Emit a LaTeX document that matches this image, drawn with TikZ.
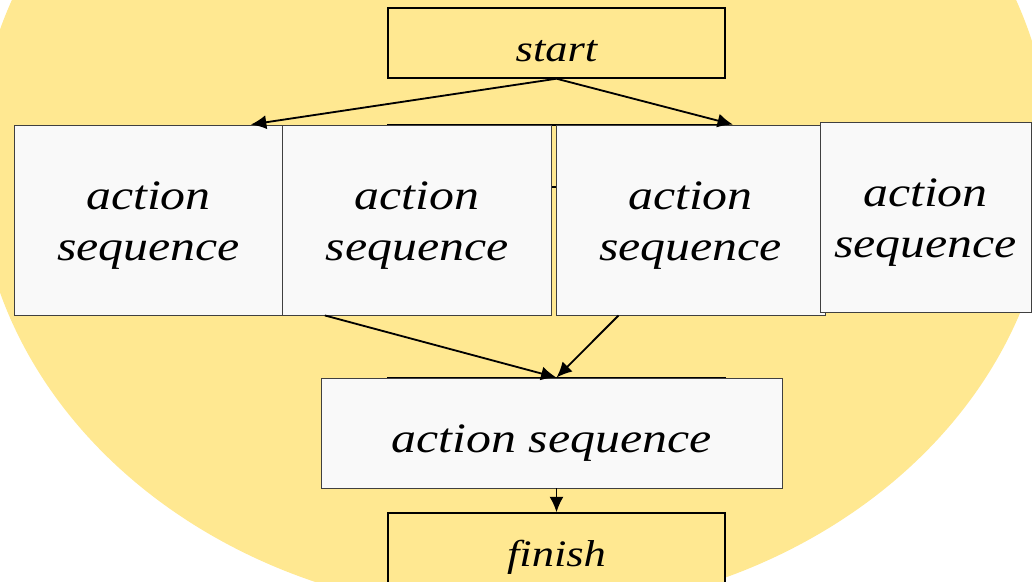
\documentclass[tikz,border=0pt]{standalone}
\usepackage{fontspec}
\setmainfont{Liberation Serif}[FakeStretch=1.19]
\usepackage{tikz}
\usetikzlibrary{arrows.meta}
\definecolor{bgyellow}{HTML}{FFE891}
\definecolor{boxgray}{HTML}{F9F9F9}
\tikzset{>={Latex[length=11pt,width=10pt]}}
\tikzset{endbox/.style={draw=black, line width=1pt, fill=bgyellow,
    minimum width=8.425cm, minimum height=1.75cm, inner sep=0pt,
    text height=26.9pt, text depth=0pt,
    font=\fontsize{26.6}{32}\selectfont\itshape}}
\tikzset{seqbox/.style={draw=black!75, line width=0.6pt, fill=boxgray,
    minimum width=6.725cm, minimum height=4.75cm, inner sep=0pt, align=center,
    text height=58pt, text depth=0pt,
    font=\fontsize{29.8}{36.5}\selectfont\itshape}}
\tikzset{arr/.style={->, line width=1.3pt}}

\begin{document}
\begin{tikzpicture}[x=0.025cm, y=-0.025cm]

                    \useasboundingbox (0,0) rectangle (1032,582);
                    \clip (0,0) rectangle (1032,582);
                    \fill[bgyellow] (514,161) ellipse [x radius=537, y radius=453];

                    % boxes left behind the row and the merge box
                    \draw[fill=bgyellow, line width=0.8pt] (388,125) rectangle (725,187);
                    \draw[fill=bgyellow, line width=0.8pt] (388,378) rectangle (725,480);

                    \node[endbox] (start) at (556.5,43) {start};
                    \node[seqbox] (seq1) at (148.5,220) {action\\sequence};
                    \node[seqbox] (seq2) at (417,220) {action\\sequence};
                    \node[seqbox] (seq3) at (690.5,220) {action\\sequence};
                    \node[seqbox, minimum width=5.275cm] (seq4) at (925.5,217) {action\\sequence};
                    \node[seqbox, minimum width=11.525cm, minimum height=2.75cm,
                          text height=28.3pt] (merge) at (551.5,433) {action sequence};
                    \node[endbox] (finish) at (556.5,548) {finish};

                    \draw[arr] (start.south) -- (seq1.43);
                    \draw[arr] (start.south) -- (seq3.66);
                    \draw[arr] (seq2.226) -- (merge.north -| finish);
                    \draw[arr] (seq3.233) -- (merge.north -| finish);
                    \draw[arr] (merge.south -| finish) -- (finish.north);

                \end{tikzpicture}
\end{document}
